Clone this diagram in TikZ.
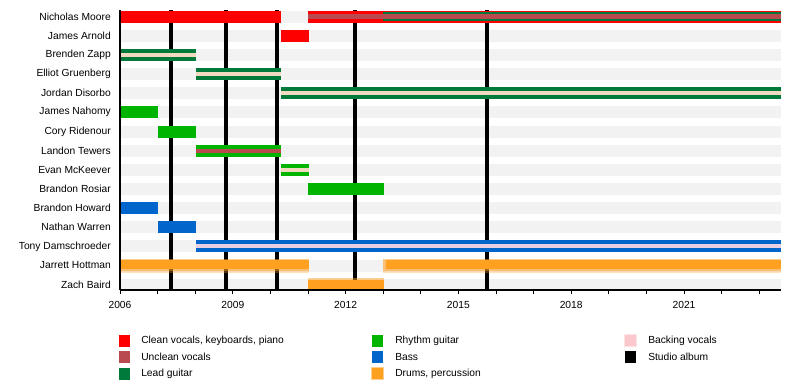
\documentclass[tikz,border=0pt]{standalone}
\usepackage{fontspec}
\setmainfont{Liberation Sans}
\definecolor{gesang}{RGB}{255,0,0}
\definecolor{shout}{RGB}{185,75,80}
\definecolor{lead}{RGB}{0,122,58}
\definecolor{rhythm}{RGB}{0,180,0}
\definecolor{bass}{RGB}{0,102,204}
\definecolor{drums}{RGB}{255,160,32}
\definecolor{backing}{RGB}{250,200,205}
\definecolor{hinter}{RGB}{242,242,242}
\definecolor{streifgr}{RGB}{242,218,192}
\definecolor{streifbl}{RGB}{232,208,226}
\begin{document}
\begin{tikzpicture}[
        x=0.75pt,
        y=-0.75pt,
        mitglied/.style={anchor=east,inner sep=0pt,font=\fontsize{7.7}{9}\selectfont},
        jahr/.style={inner sep=0pt,font=\fontsize{7.7}{9}\selectfont},
        legende/.style={anchor=west,inner sep=0pt,font=\fontsize{7.7}{9}\selectfont},
        hgrund/.style={fill=hinter},
        album/.style={line width=2.3pt}]

\useasboundingbox[fill=white] (0,0) rectangle (800,380);
%Hintergrund
\fill[hgrund] (120,10.5) rectangle (781,22.5);
\fill[hgrund] (120,29.8) rectangle (781,41.8);
\fill[hgrund] (120,49) rectangle (781,61);
\fill[hgrund] (120,68.2) rectangle (781,80.2);
\fill[hgrund] (120,87) rectangle (781,99);
\fill[hgrund] (120,106.3) rectangle (781,118.3);
\fill[hgrund] (120,125.5) rectangle (781,137.5);
\fill[hgrund] (120,144.7) rectangle (781,156.7);
\fill[hgrund] (120,163.8) rectangle (781,175.8);
\fill[hgrund] (120,182.8) rectangle (781,194.8);
\fill[hgrund] (120,202) rectangle (781,214);
\fill[hgrund] (120,221.2) rectangle (781,233.2);
\fill[hgrund] (120,240.4) rectangle (781,252.4);
\fill[hgrund] (120,259.5) rectangle (781,271.5);
\fill[hgrund] (120,278.5) rectangle (781,290.5);
%Studioalben
\draw[album] (171,10) -- (171,290);
\draw[album] (226,10) -- (226,290);
\draw[album] (277,10) -- (277,290);
\draw[album] (355,10) -- (355,290);
\draw[album] (487,10) -- (487,290);
%Nicholas Moore
\fill[gesang] (120,10.5) rectangle (281,22.5);
\fill[gesang] (308,10.5) rectangle (781,22.5);
\fill[lead] (383,12) rectangle (781,21);
\fill[shout] (308,14) rectangle (781,19);
%James Arnold
\fill[gesang] (281,29.8) rectangle (309,41.8);
%Brenden Zapp
\fill[lead] (120,49) rectangle (196,61);
\fill[streifgr] (120,53) rectangle (196,57);
%Elliot Gruenberg
\fill[lead] (196,68.2) rectangle (281,80.2);
\fill[streifgr] (196,72.2) rectangle (281,76.2);
%Jordan Disorbo
\fill[lead] (281,87) rectangle (781,99);
\fill[streifgr] (281,91) rectangle (781,95);
%James Nahomy
\fill[rhythm] (120,106.3) rectangle (158,118.3);
%Cory Ridenour
\fill[rhythm] (158,125.5) rectangle (196,137.5);
%Landon Tewers
\fill[rhythm] (196,144.7) rectangle (281,156.7);
\fill[shout] (196,148.7) rectangle (281,152.7);
%Evan McKeever
\fill[rhythm] (281,163.8) rectangle (309,175.8);
\fill[streifgr] (281,167.8) rectangle (309,171.8);
%Brandon Rosiar
\fill[rhythm] (308,182.8) rectangle (384,194.8);
%Brandon Howard
\fill[bass] (120,202) rectangle (158,214);
%Nathan Warren
\fill[bass] (158,221.2) rectangle (196,233.2);
%Tony Damschroeder
\fill[bass] (196,240.4) rectangle (781,252.4);
\fill[streifbl] (196,244.4) rectangle (781,248.4);
%Jarrett Hottman (verwischt)
\fill[drums,opacity=0.5] (120,258.5) rectangle (309,260);
\fill[drums] (120,260) rectangle (309,269);
\fill[drums,opacity=0.6] (120,269) rectangle (309,271);
\fill[drums,opacity=0.3] (120,271) rectangle (309,273);
\fill[drums,opacity=0.5] (383,258.5) rectangle (781,260);
\fill[drums,opacity=0.6] (383,260) rectangle (386,269);
\fill[drums] (386,260) rectangle (781,269);
\fill[drums,opacity=0.6] (383,269) rectangle (781,271);
\fill[drums,opacity=0.3] (383,271) rectangle (781,273);
%Zach Baird
\fill[drums,opacity=0.5] (308,278) rectangle (384,279.5);
\fill[drums] (308,279.5) rectangle (384,290.5);
%Achsen
\draw[line width=0.8pt] (120,10) -- (120,290);
\draw[line width=0.8pt] (120,290) -- (781,290);
\foreach \t in {120,157.6,195.2,232.8,270.4,308,345.6,383.2,420.8,458.4,496,533.6,571.2,608.8,646.4,684,721.6,759.2}
  \draw[line width=0.5pt] (\t,290) -- (\t,294);
%Jahreszahlen
\node[jahr] (j2006) at (120,305) {2006};
\node[jahr] (j2009) at (232.8,305) {2009};
\node[jahr] (j2012) at (345.6,305) {2012};
\node[jahr] (j2015) at (458.4,305) {2015};
\node[jahr] (j2018) at (571.2,305) {2018};
\node[jahr] (j2021) at (684,305) {2021};
%Namen
\node[mitglied] (moore) at (111,16.5) {Nicholas Moore};
\node[mitglied] (arnold) at (111,35.8) {James Arnold};
\node[mitglied] (zapp) at (111,55) {Brenden Zapp};
\node[mitglied] (gruenberg) at (111,74.2) {Elliot Gruenberg};
\node[mitglied] (disorbo) at (111,93) {Jordan Disorbo};
\node[mitglied] (nahomy) at (111,112.3) {James Nahomy};
\node[mitglied] (ridenour) at (111,131.5) {Cory Ridenour};
\node[mitglied] (tewers) at (111,150.7) {Landon Tewers};
\node[mitglied] (mckeever) at (111,169.8) {Evan McKeever};
\node[mitglied] (rosiar) at (111,188.8) {Brandon Rosiar};
\node[mitglied] (howard) at (111,208) {Brandon Howard};
\node[mitglied] (warren) at (111,227.2) {Nathan Warren};
\node[mitglied] (damschroeder) at (111,246.4) {Tony Damschroeder};
\node[mitglied] (hottman) at (111,265.5) {Jarrett Hottman};
\node[mitglied] (baird) at (111,284.5) {Zach Baird};
%Legende
\fill[gesang] (119,334.5) rectangle (130,346.5);
\fill[shout] (119,351) rectangle (130,363);
\fill[lead] (119,367.5) rectangle (130,379.5);
\fill[rhythm] (372,334.5) rectangle (383,346.5);
\fill[bass] (372,351) rectangle (383,363);
\fill[drums,opacity=0.5] (371,367) rectangle (384,380);
\fill[drums] (372,368) rectangle (383,379);
\fill[backing,opacity=0.5] (624,334) rectangle (637,347);
\fill[backing] (625,335) rectangle (636,346);
\fill[black] (625,351) rectangle (636,363);
\node[legende] (l1) at (141,340.5) {Clean vocals, keyboards, piano};
\node[legende] (l2) at (141,357) {Unclean vocals};
\node[legende] (l3) at (141,373.5) {Lead guitar};
\node[legende] (l4) at (395,340.5) {Rhythm guitar};
\node[legende] (l5) at (395,357) {Bass};
\node[legende] (l6) at (395,373.5) {Drums, percussion};
\node[legende] (l7) at (648,340.5) {Backing vocals};
\node[legende] (l8) at (648,357) {Studio album};

\end{tikzpicture}
\end{document}
